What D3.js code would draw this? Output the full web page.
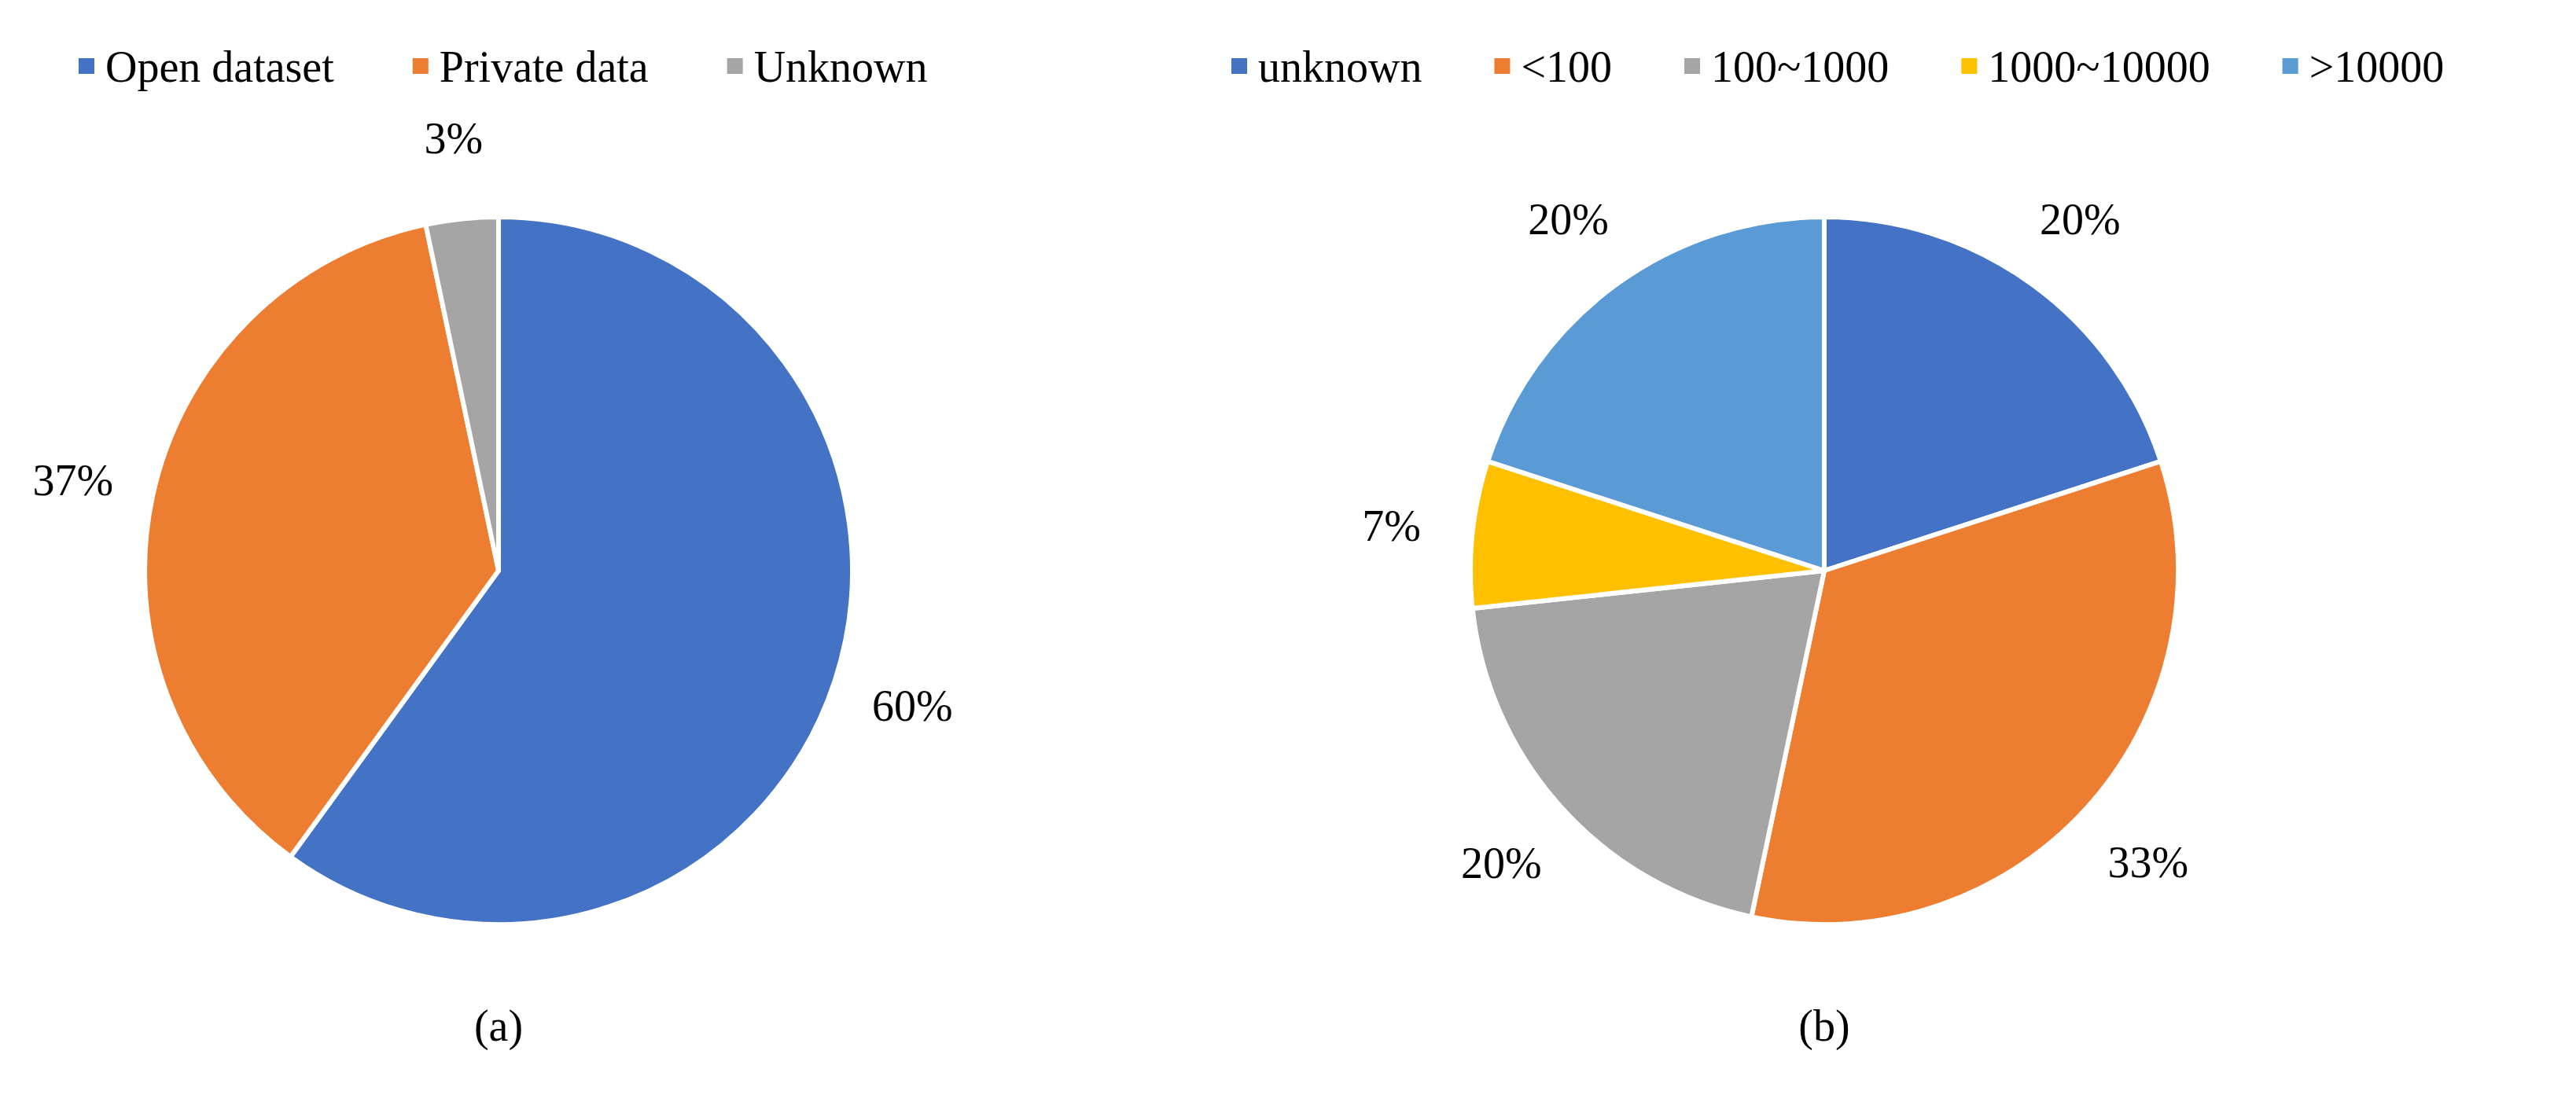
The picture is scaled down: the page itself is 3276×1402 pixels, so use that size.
<!DOCTYPE html>
<html>
<head>
<meta charset="utf-8">
<script src="https://d3js.org/d3.v7.min.js"></script>
<style>
body{margin:0;background:#fff;}
text{font-family:"Liberation Serif","Times New Roman",serif;fill:#000;}
</style>
</head>
<body>
<svg id="chart" width="3276" height="1402"></svg>
<script>
// pie (a)
var sourceNames=["Open dataset","Private data","Unknown"];
var sourceValues=[60,36.7,3.3];
var sourceLabels=["60%","37%","3%"];
var sourceColors=["#4472C4","#ED7D31","#A5A5A5"];
// pie (b)
var sizeNames=["unknown","<100","100~1000","1000~10000",">10000"];
var sizeValues=[20,33.3,20,6.7,20];
var sizeLabels=["20%","33%","20%","7%","20%"];
var sizeColors=["#4472C4","#ED7D31","#A5A5A5","#FFC000","#5B9BD5"];

var svg=d3.select("#chart");
var R=450;

function drawPie(cx,cy,names,values,labels,colors,caption,legendX,legendGap){
	var g=svg.append("g").attr("transform","translate("+cx+","+cy+")");
	var pie=d3.pie().sort(null)(values);
	var arc=d3.arc().innerRadius(0).outerRadius(R);
	var labelArc=d3.arc().innerRadius(R*1.23).outerRadius(R*1.23);
	g.selectAll("path").data(pie).enter().append("path")
		.attr("d",arc)
		.attr("fill",function(d,i){return colors[i];})
		.attr("stroke","#fff")
		.attr("stroke-width",6)
		.attr("stroke-linejoin","round");
	g.selectAll("text.lbl").data(pie).enter().append("text")
		.attr("class","lbl")
		.attr("transform",function(d){return "translate("+labelArc.centroid(d)+")";})
		.attr("text-anchor","middle")
		.attr("dy","0.35em")
		.attr("font-size",56)
		.text(function(d,i){return labels[i];});
	svg.append("text").attr("x",cx).attr("y",cy+598)
		.attr("text-anchor","middle").attr("font-size",56).text(caption);
	var lg=svg.append("g");
	var x=legendX;
	names.forEach(function(n,i){
		lg.append("rect").attr("x",x).attr("y",74).attr("width",20).attr("height",20).attr("fill",colors[i]);
		var t=lg.append("text").attr("x",x+34).attr("y",84).attr("dy","0.35em").attr("font-size",56).text(n);
		x+=34+t.node().getComputedTextLength()+legendGap;
	});
}

drawPie(634,726,sourceNames,sourceValues,sourceLabels,sourceColors,"(a)",100,100);
drawPie(2320,726,sizeNames,sizeValues,sizeLabels,sizeColors,"(b)",1566,92);
</script>
</body>
</html>
